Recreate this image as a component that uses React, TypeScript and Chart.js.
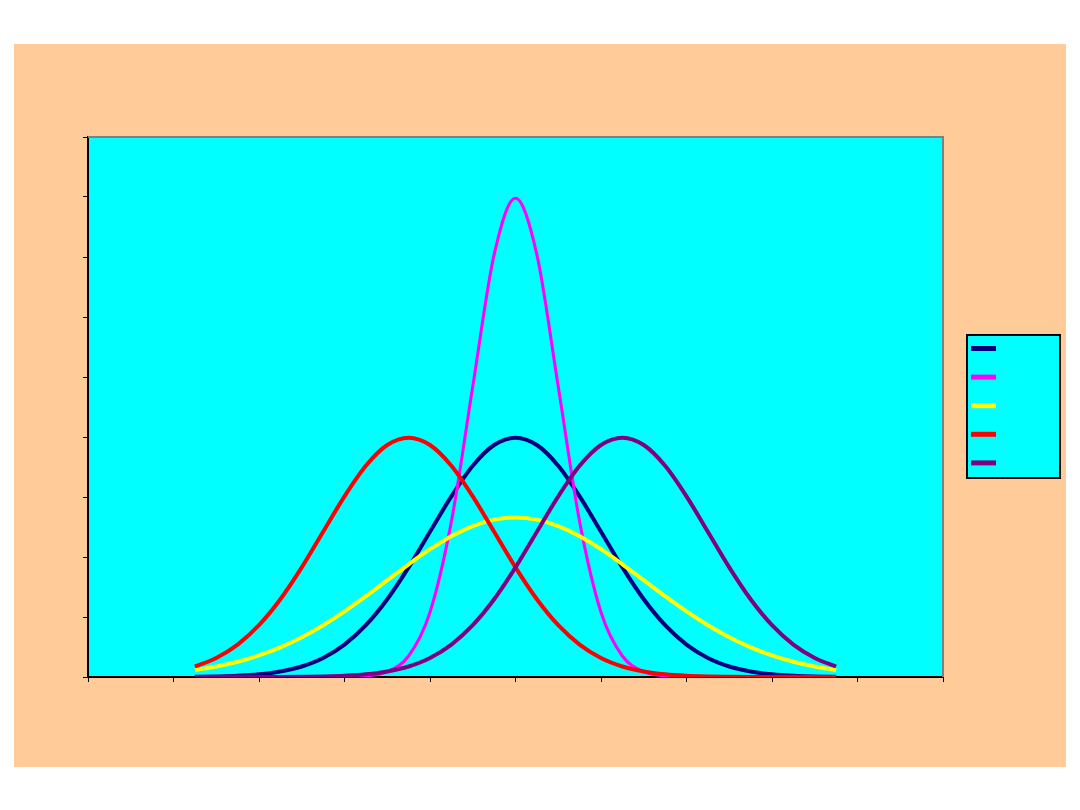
import React, { useEffect, useRef } from "react";
import { Chart, registerables } from "chart.js";

Chart.register(...registerables);

// x positions shared by every series
const xValues = [
  -3.75, -3.5, -3.25, -3, -2.75, -2.5, -2.25, -2, -1.75, -1.5, -1.25, -1, -0.75, -0.5, -0.25, 0,
  0.25, 0.5, 0.75, 1, 1.25, 1.5, 1.75, 2, 2.25, 2.5, 2.75, 3, 3.25, 3.5, 3.75,
];

const navySeries = [
  0.0004, 0.0009, 0.002, 0.0044, 0.0091, 0.0175, 0.0317, 0.054, 0.0863, 0.1295, 0.1826, 0.242, 0.3011, 0.3521, 0.3867, 0.3989,
  0.3867, 0.3521, 0.3011, 0.242, 0.1826, 0.1295, 0.0863, 0.054, 0.0317, 0.0175, 0.0091, 0.0044, 0.002, 0.0009, 0.0004,
];

const magentaSeries = [
  0, 0, 0, 0, 0, 0, 0, 0.0003, 0.0017, 0.0089, 0.035, 0.108, 0.259, 0.484, 0.704, 0.798,
  0.704, 0.484, 0.259, 0.108, 0.035, 0.0089, 0.0017, 0.0003, 0, 0, 0, 0, 0, 0, 0,
];

const yellowSeries = [
  0.0117, 0.0175, 0.0254, 0.036, 0.0495, 0.0663, 0.0863, 0.1093, 0.1347, 0.1613, 0.1879, 0.213, 0.2347, 0.2516, 0.2623, 0.266,
  0.2623, 0.2516, 0.2347, 0.213, 0.1879, 0.1613, 0.1347, 0.1093, 0.0863, 0.0663, 0.0495, 0.036, 0.0254, 0.0175, 0.0117,
];

const redSeries = [
  0.0175, 0.0317, 0.054, 0.0863, 0.1295, 0.1826, 0.242, 0.3011, 0.3521, 0.3867, 0.3989, 0.3867, 0.3521, 0.3011, 0.242, 0.1826,
  0.1295, 0.0863, 0.054, 0.0317, 0.0175, 0.0091, 0.0044, 0.002, 0.0009, 0.0004, 0.0001, 0, 0, 0, 0,
];

const purpleSeries = [
  0, 0, 0, 0, 0.0001, 0.0004, 0.0009, 0.002, 0.0044, 0.0091, 0.0175, 0.0317, 0.054, 0.0863, 0.1295, 0.1826,
  0.242, 0.3011, 0.3521, 0.3867, 0.3989, 0.3867, 0.3521, 0.3011, 0.242, 0.1826, 0.1295, 0.0863, 0.054, 0.0317, 0.0175,
];

const seriesList = [navySeries, magentaSeries, yellowSeries, redSeries, purpleSeries];
const seriesColors = ["#000080", "#ff00ff", "#ffff00", "#ff0000", "#800080"];
const seriesWidths = [4, 3, 4, 4, 4];

// plot background, grey frame and the label-less legend box
const framePlugin = {
  id: "frame",
  beforeDraw(chart: any) {
    const { ctx, chartArea } = chart;
    ctx.save();
    ctx.fillStyle = "#00ffff";
    ctx.fillRect(chartArea.left, chartArea.top, chartArea.right - chartArea.left, chartArea.bottom - chartArea.top);
    ctx.restore();
  },
  afterDraw(chart: any) {
    const { ctx, chartArea } = chart;
    ctx.save();
    ctx.strokeStyle = "#808080";
    ctx.lineWidth = 2;
    ctx.beginPath();
    ctx.moveTo(chartArea.left, chartArea.top);
    ctx.lineTo(chartArea.right, chartArea.top);
    ctx.lineTo(chartArea.right, chartArea.bottom);
    ctx.stroke();

    // legend
    const boxX = 953;
    const boxY = 291;
    ctx.fillStyle = "#00ffff";
    ctx.fillRect(boxX, boxY, 93, 143);
    ctx.strokeStyle = "#000000";
    ctx.lineWidth = 2;
    ctx.strokeRect(boxX, boxY, 93, 143);
    chart.data.datasets.forEach((ds: any, i: number) => {
      const y = boxY + 13.5 + i * 28.6;
      ctx.strokeStyle = ds.borderColor;
      ctx.lineWidth = 5;
      ctx.beginPath();
      ctx.moveTo(boxX + 4, y);
      ctx.lineTo(boxX + 29, y);
      ctx.stroke();
    });
    ctx.restore();
  },
};

const NormalCurves = () => {
  const canvasRef = useRef<HTMLCanvasElement>(null);
  const chartRef = useRef<any>(null);

  useEffect(() => {
    const ctx = canvasRef.current!.getContext("2d")!;
    if (chartRef.current) chartRef.current.destroy();

    chartRef.current = new Chart(ctx, {
      type: "line",
      data: {
        datasets: seriesList.map((series, i) => ({
          label: "",
          data: xValues.map((x, k) => ({ x, y: series[k] })),
          borderColor: seriesColors[i],
          backgroundColor: seriesColors[i],
          borderWidth: seriesWidths[i],
          pointRadius: 0,
          fill: false,
          cubicInterpolationMode: "monotone" as const,
          order: -i,
        })),
      },
      options: {
        animation: false,
        responsive: true,
        maintainAspectRatio: false,
        layout: { padding: { left: 69, top: 93, right: 123, bottom: 85 } },
        plugins: {
          legend: { display: false },
          tooltip: { enabled: false },
        },
        scales: {
          x: {
            type: "linear",
            min: -5,
            max: 5,
            ticks: { display: false, stepSize: 1 },
            grid: { drawOnChartArea: false, drawTicks: true, tickLength: 5, color: "#000000", lineWidth: 1 },
            border: { color: "#000000", width: 2 },
          },
          y: {
            min: 0,
            max: 0.9,
            ticks: { display: false, stepSize: 0.1 },
            grid: { drawOnChartArea: false, drawTicks: true, tickLength: 5, color: "#000000", lineWidth: 1 },
            border: { color: "#000000", width: 2 },
          },
        },
      },
      plugins: [framePlugin],
    });

    return () => {
      if (chartRef.current) {
        chartRef.current.destroy();
        chartRef.current = null;
      }
    };
  }, []);

  return <canvas ref={canvasRef} />;
};

export default function App() {
  return (
    <div style={{ position: "absolute", left: 0, top: 0, width: 1080, height: 810, background: "#ffffff" }}>
      <div
        style={{
          position: "absolute",
          left: 14,
          top: 44,
          width: 1052,
          height: 723,
          background: "#ffcc99",
        }}
      >
        <NormalCurves />
      </div>
    </div>
  );
}
